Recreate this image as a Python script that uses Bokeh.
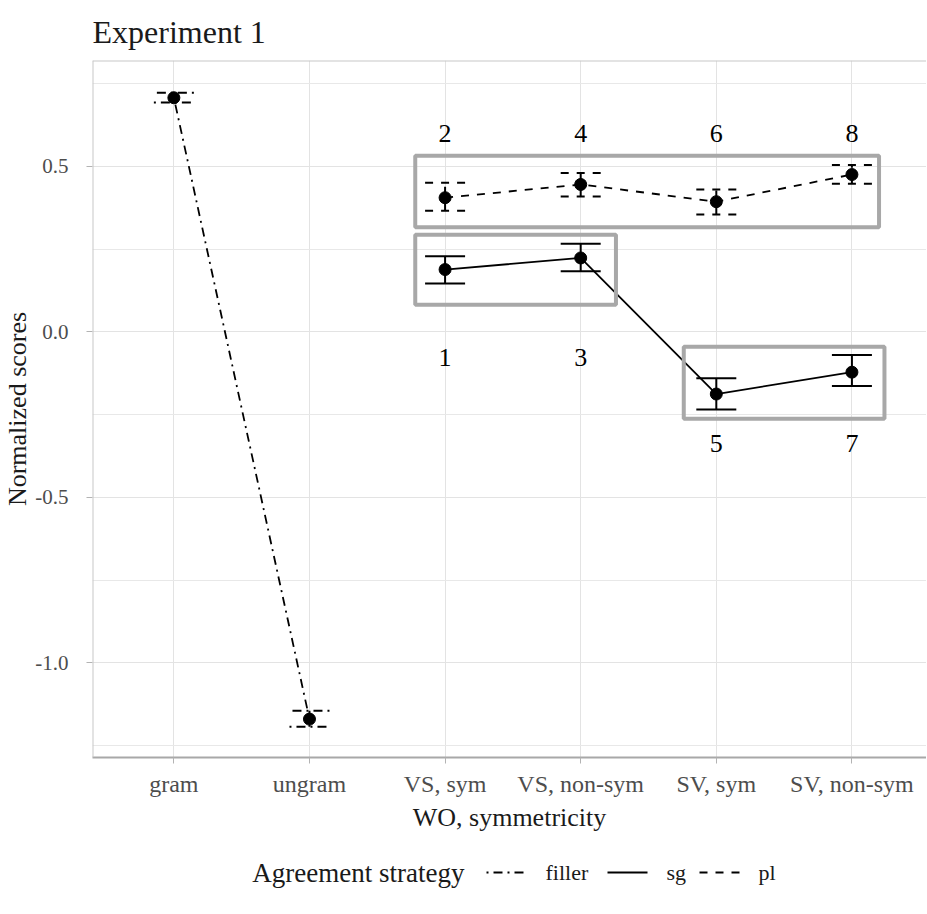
from bokeh.plotting import figure
from bokeh.layouts import column
from bokeh.models import (Range1d, FixedTicker, Whisker, TeeHead, ColumnDataSource,
                          BoxAnnotation, Span)
from bokeh.embed import file_html
from bokeh.resources import INLINE
from bokeh.core.properties import value

# ---------------- data ----------------
categories = ["gram", "ungram", "VS, sym", "VS, non-sym", "SV, sym", "SV, non-sym"]

filler_cats = ["gram", "ungram"]
filler_mean = [0.707, -1.170]
filler_lower = [0.693, -1.193]
filler_upper = [0.722, -1.145]

exp_cats = ["VS, sym", "VS, non-sym", "SV, sym", "SV, non-sym"]
sg_mean = [0.188, 0.223, -0.188, -0.122]
sg_lower = [0.146, 0.183, -0.235, -0.164]
sg_upper = [0.228, 0.266, -0.140, -0.070]

pl_mean = [0.405, 0.445, 0.393, 0.475]
pl_lower = [0.366, 0.409, 0.354, 0.447]
pl_upper = [0.450, 0.480, 0.430, 0.504]

sg_numbers = ["1", "3", "5", "7"]
pl_numbers = ["2", "4", "6", "8"]

y_major = [-1.0, -0.5, 0.0, 0.5]
y_minor = [-1.25, -0.75, -0.25, 0.25, 0.75]

legend_title = "Agreement strategy"
legend_labels = ["filler", "sg", "pl"]

# ---------------- layout constants (annotation positions) ----------------
sg_number_y = [-0.078, -0.078, -0.338, -0.338]
pl_number_y = [0.599, 0.599, 0.599, 0.599]
boxes = [  # left, right, bottom, top
    (2.78, 6.20, 0.316, 0.532),
    (2.78, 4.26, 0.082, 0.293),
    (4.76, 6.24, -0.263, -0.045),
]
# legend strip layout, in pixels from the plot panel's left edge
LEG_TITLE_RIGHT = 372
LEG_KEY_LEFT = [394, 515, 607]
LEG_KEY_W = 40
LEG_LABEL_GAP = 19
LEG_Y = 32

SERIF = "Liberation Serif"
pos = {c: i + 1 for i, c in enumerate(categories)}
X_START, X_END = 0.4, 6.55
Y_START, Y_END = -1.286, 0.8195
FRAME_W = 834

p = figure(frame_width=FRAME_W, frame_height=697,
           x_range=Range1d(X_START, X_END), y_range=Range1d(Y_START, Y_END),
           output_backend="svg", toolbar_location=None,
           min_border_left=0, min_border_right=0, min_border_top=0, min_border_bottom=0)

p.background_fill_color = "white"
p.border_fill_color = "white"
p.outline_line_color = None
# panel border: top and left (right edge lies outside the picture)
p.add_layout(Span(location=Y_END, dimension="width", line_color="#C8C8C8", line_width=2))
p.add_layout(Span(location=X_START, dimension="height", line_color="#C8C8C8", line_width=2))

# title
p.title.text = "Experiment 1"
p.title.text_font = SERIF
p.title.text_font_size = "32px"
p.title.text_font_style = "normal"
p.title.align = "left"
p.title.text_color = "#1A1A1A"
p.title.standoff = 22

# axes
p.xaxis.ticker = FixedTicker(ticks=[pos[c] for c in categories])
p.xaxis.major_label_overrides = {pos[c]: c for c in categories}
p.yaxis.ticker = FixedTicker(ticks=y_major, minor_ticks=y_minor)
p.yaxis.major_label_overrides = {v: f"{v:.1f}" for v in y_major}
for ax in (p.xaxis[0], p.yaxis[0]):
    ax.major_label_text_font = SERIF
    ax.major_label_text_color = "#4D4D4D"
    ax.axis_label_text_font = SERIF
    ax.axis_label_text_font_size = "26px"
    ax.axis_label_text_font_style = "normal"
    ax.axis_label_text_color = "#1A1A1A"
    ax.major_tick_line_color = "#B3B3B3"
    ax.major_tick_in = 0
    ax.major_tick_out = 6
    ax.minor_tick_line_color = None
p.xaxis.major_label_text_font_size = "24px"
p.yaxis.major_label_text_font_size = "21px"
p.xaxis.axis_label = "WO, symmetricity"
p.yaxis.axis_label = "Normalized scores"
p.xaxis.axis_line_color = "#A8A8A8"
p.xaxis.axis_line_width = 2
p.yaxis.axis_line_color = None
p.xaxis.major_label_standoff = 7
p.xaxis.axis_label_standoff = 3
p.yaxis.major_label_standoff = 18
p.yaxis.axis_label_standoff = 0

p.xgrid.grid_line_color = "#E3E3E3"
p.ygrid.grid_line_color = "#E3E3E3"
p.ygrid.minor_grid_line_color = "#E8E8E8"

# boxes
for (l, r, b, t) in boxes:
    p.add_layout(BoxAnnotation(left=l, right=r, bottom=b, top=t, fill_alpha=0,
                               line_color="#A8A8A8", line_alpha=1, line_width=4))

DASH_PL = "8 8"
DASH_FILLER = "2 5 9 5"

def series(cats, mean, lower, upper, dash, lw):
    src = ColumnDataSource(dict(x=[pos[c] for c in cats], mean=mean, lower=lower, upper=upper))
    p.line("x", "mean", source=src, line_color="black", line_width=lw, line_dash=dash)
    head_kw = dict(size=40, line_color="black", line_width=2, line_dash=dash)
    w = Whisker(source=src, base="x", upper="upper", lower="lower", dimension="height",
                line_color="black", line_width=2, line_dash=dash,
                upper_head=TeeHead(**head_kw), lower_head=TeeHead(**head_kw))
    p.add_layout(w)
    p.scatter("x", "mean", source=src, size=12, color="black")

series(filler_cats, filler_mean, filler_lower, filler_upper, DASH_FILLER, 1.8)
series(exp_cats, sg_mean, sg_lower, sg_upper, "solid", 1.8)
series(exp_cats, pl_mean, pl_lower, pl_upper, DASH_PL, 1.8)

# condition numbers
num_src = ColumnDataSource(dict(
    x=[pos[c] for c in exp_cats] * 2,
    y=sg_number_y + pl_number_y,
    t=sg_numbers + pl_numbers))
p.text("x", "y", text="t", source=num_src, text_font=value(SERIF), text_font_size="26px",
       text_align="center", text_baseline="middle", text_color="black")

# ---------------- legend strip below the plot (frame aligned with the plot's) ----------------
LEG_H = 70
leg = figure(frame_width=FRAME_W, frame_height=LEG_H, x_range=Range1d(0, FRAME_W),
             y_range=Range1d(0, LEG_H), output_backend="svg", toolbar_location=None,
             x_axis_type=None, y_axis_type=None, title=None,
             min_border_left=0, min_border_right=0, min_border_top=0, min_border_bottom=0)
leg.outline_line_color = None
leg.background_fill_color = "white"
leg.border_fill_color = "white"

leg.text(x=[LEG_TITLE_RIGHT], y=[LEG_Y], text=[legend_title], text_font=value(SERIF),
         text_font_size="27px", text_align="right", text_baseline="middle", text_color="#1A1A1A")
for x0, dash in zip(LEG_KEY_LEFT, [DASH_FILLER, "solid", DASH_PL]):
    leg.segment(x0=[x0], y0=[LEG_Y], x1=[x0 + LEG_KEY_W], y1=[LEG_Y],
                line_color="black", line_width=1.8, line_dash=dash)
leg.text(x=[x0 + LEG_KEY_W + LEG_LABEL_GAP for x0 in LEG_KEY_LEFT], y=[LEG_Y] * 3,
         text=legend_labels, text_font=value(SERIF), text_font_size="22px",
         text_align="left", text_baseline="middle", text_color="#1A1A1A")

layout = column(p, leg, spacing=0)
open("out.html", "w").write(file_html(layout, INLINE))
